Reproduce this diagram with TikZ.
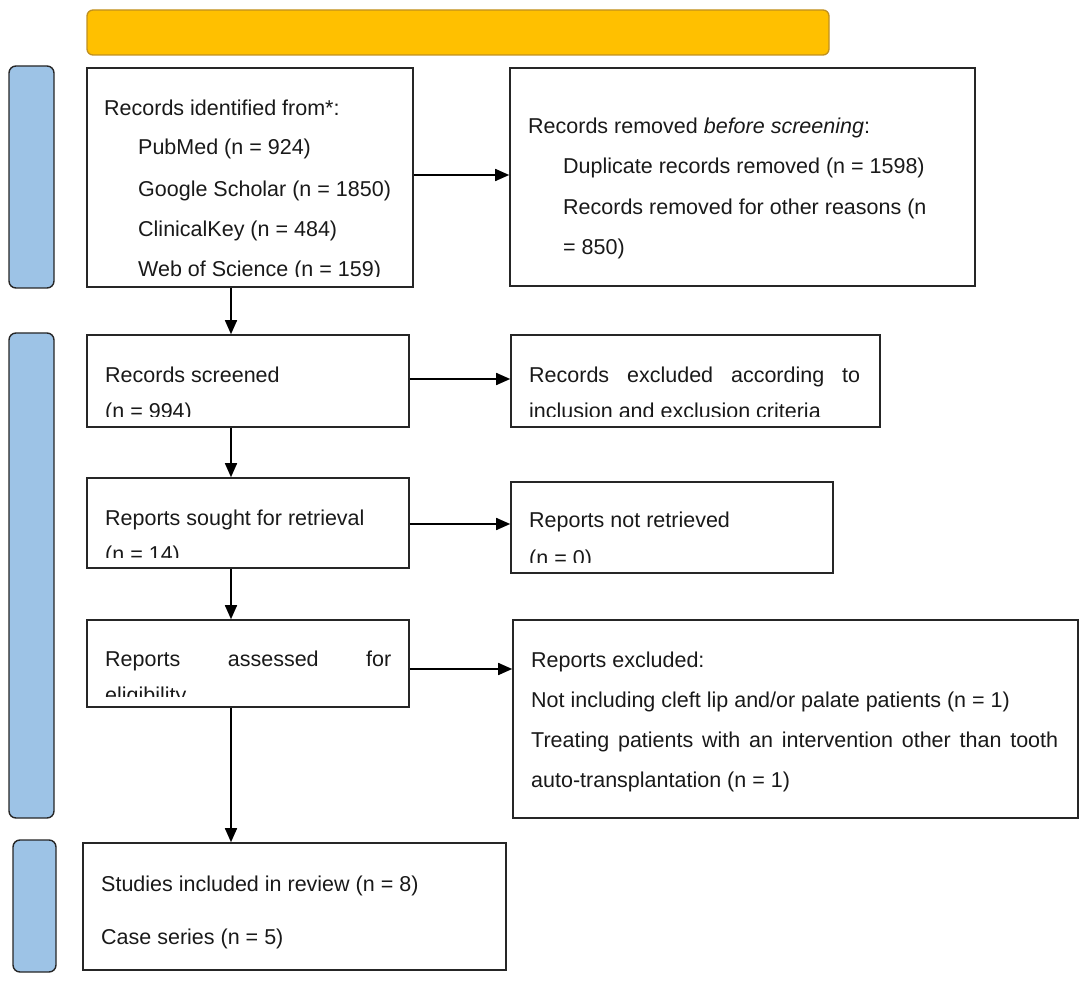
\documentclass[tikz,border=0pt]{standalone}
\usepackage{fontspec}
\setmainfont{Liberation Sans}
\usetikzlibrary{arrows.meta,fit}
\definecolor{goldfill}{HTML}{FFC000}
\definecolor{golddraw}{HTML}{C09020}
\definecolor{bluefill}{HTML}{9DC3E6}
\newcommand{\flowfont}{\fontsize{21.5}{25}\selectfont}
\begin{document}
\begin{tikzpicture}[x=1pt,y=-1pt,
  pbox/.style={draw=black!85, line width=1.6pt, inner sep=0pt, rectangle},
  phase/.style={draw=black!85, fill=bluefill, line width=1.4pt, rounded corners=7pt, inner sep=0pt},
  txt/.style={anchor=base west, inner sep=0pt, yshift=-7.5pt, font=\flowfont, text=black!90},
  arr/.style={line width=1.6pt, -{Triangle[length=14pt,width=12pt]}}]
\useasboundingbox (0,0) rectangle (1088,984);

% header bar
\node[fit={(87,10) (829,55)}, draw=golddraw, fill=goldfill, line width=1.3pt, rounded corners=6pt, inner sep=0pt] (head) {};

% phase bars on the left
\node[phase, fit={(9,66) (54,288)}] (ph1) {};
\node[phase, fit={(9,333) (54,818)}] (ph2) {};
\node[phase, fit={(13,840) (56,972)}] (ph3) {};

% boxes
\node[pbox, fit={(87,68) (413,287)}] (b1) {};
\node[pbox, fit={(510,68) (975,286)}] (b2) {};
\node[pbox, fit={(87,335) (409,427)}] (b3) {};
\node[pbox, fit={(511,335) (880,427)}] (b4) {};
\node[pbox, fit={(87,478) (409,568)}] (b5) {};
\node[pbox, fit={(511,482) (833,573)}] (b6) {};
\node[pbox, fit={(87,620) (409,707)}] (b7) {};
\node[pbox, fit={(513,620) (1078,818)}] (b8) {};
\node[pbox, fit={(83,843) (506,970)}] (b9) {};

% box texts, cut off where the box frame ends
\begin{scope}
\clip (b1.north west) rectangle ([yshift=11pt]b1.south east);
\node[txt] (t1a) at (104,108) {Records identified from*:};
\node[txt] (t1b) at (138,147) {PubMed (n = 924)};
\node[txt] (t1c) at (138,189) {Google Scholar (n = 1850)};
\node[txt] (t1d) at (138,229) {ClinicalKey (n = 484)};
\node[txt] (t1e) at (138,269) {Web of Science (n = 159)};
\end{scope}

\node[txt] (t2a) at (528,126) {Records removed \textit{before screening}:};
\node[txt] (t2b) at (563,166) {Duplicate records removed (n = 1598)};
\node[txt] (t2c) at (563,207) {Records removed for other reasons (n};
\node[txt] (t2d) at (563,247) {= 850)};

\begin{scope}
\clip (b3.north west) rectangle ([yshift=11pt]b3.south east);
\node[txt] (t3a) at (105,375) {Records screened};
\node[txt] (t3b) at (105,411) {(n = 994)};
\end{scope}

\begin{scope}
\clip (b4.north west) rectangle ([yshift=11pt]b4.south east);
\node[txt] (t4a) at (529,375) {\makebox[331pt][s]{Records excluded according to}};
\node[txt] (t4b) at (529,411) {inclusion and exclusion criteria};
\end{scope}

\begin{scope}
\clip (b5.north west) rectangle ([yshift=11pt]b5.south east);
\node[txt] (t5a) at (105,518) {Reports sought for retrieval};
\node[txt] (t5b) at (105,554) {(n = 14)};
\end{scope}

\begin{scope}
\clip (b6.north west) rectangle ([yshift=11pt]b6.south east);
\node[txt] (t6a) at (529,520) {Reports not retrieved};
\node[txt] (t6b) at (529,558) {(n = 0)};
\end{scope}

\begin{scope}
\clip (b7.north west) rectangle ([yshift=11pt]b7.south east);
\node[txt] (t7a) at (105,659) {\makebox[286pt][s]{Reports assessed for}};
\node[txt] (t7b) at (105,695) {eligibility};
\end{scope}

\node[txt] (t8a) at (531,660) {Reports excluded:};
\node[txt] (t8b) at (531,700) {Not including cleft lip and/or palate patients (n = 1)};
\node[txt] (t8c) at (531,740) {\makebox[527pt][s]{Treating patients with an intervention other than tooth}};
\node[txt] (t8d) at (531,780) {auto-transplantation (n = 1)};

\node[txt] (t9a) at (101,884) {Studies included in review (n = 8)};
\node[txt] (t9b) at (101,937) {Case series (n = 5)};

% connector guides
\coordinate (xl) at (231,0);
\coordinate (y1) at (0,175);
\coordinate (y2) at (0,379);
\coordinate (y3) at (0,524);
\coordinate (y4) at (0,669);

% vertical flow
\draw[arr] (b1.south -| xl) -- (b3.north -| xl);
\draw[arr] (b3.south -| xl) -- (b5.north -| xl);
\draw[arr] (b5.south -| xl) -- (b7.north -| xl);
\draw[arr] (b7.south -| xl) -- (b9.north -| xl);

% side exits
\draw[arr] (b1.east |- y1) -- (b2.west |- y1);
\draw[arr] (b3.east |- y2) -- (b4.west |- y2);
\draw[arr] (b5.east |- y3) -- (b6.west |- y3);
\draw[arr] (b7.east |- y4) -- (b8.west |- y4);
\end{tikzpicture}
\end{document}
